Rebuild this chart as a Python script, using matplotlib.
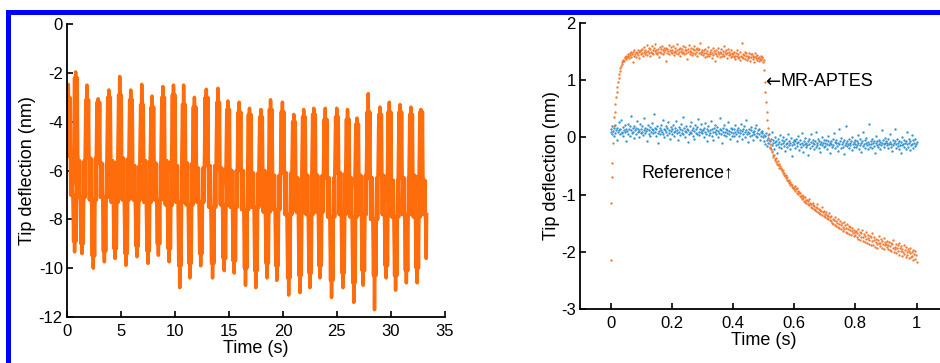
import numpy as np
import matplotlib.pyplot as plt
from matplotlib.patches import Rectangle

# ---- left panel: oscillating tip deflection, one entry per cycle ----
peak_t = [0.12, 0.8, 1.85, 2.88, 3.87, 4.88, 5.9, 6.92, 7.88, 8.88, 9.86, 10.8,
          11.8, 12.9, 13.98, 14.9, 15.95, 16.9, 17.95, 18.85, 19.95, 21.0, 21.92,
          22.85, 23.92, 24.98, 25.98, 26.85, 27.9, 28.98, 29.85, 30.85, 31.85, 32.78]
peak_v = [-2.47, -1.96, -2.5, -3.06, -2.7, -2.15, -2.7, -2.47, -2.95, -2.56, -2.5, -2.5,
          -3.0, -2.67, -2.63, -3.15, -3.2, -3.45, -3.5, -3.1, -3.2, -3.7, -3.5,
          -3.45, -3.45, -3.45, -3.5, -3.85, -2.85, -3.4, -3.2, -3.3, -3.4, -3.5]
peak2_v = [-3.0, -2.2, -3.1, -3.2, -3.0, -2.9, -3.1, -3.3, -3.4, -3.0, -2.9, -3.3,
           -3.4, -3.0, -3.2, -3.5, -3.6, -3.7, -3.8, -3.5, -3.6, -4.0, -3.8,
           -3.7, -3.9, -3.8, -3.9, -4.1, -3.6, -3.7, -3.6, -3.6, -3.7, -3.6]
trough_v = [-9.33, -9.4, -10.0, -9.74, -9.6, -9.88, -9.53, -9.8, -9.47, -9.74, -10.8, -10.4,
            -9.9, -10.4, -10.1, -10.2, -10.7, -10.8, -10.4, -10.5, -11.1, -11.0, -10.8,
            -10.4, -11.2, -10.8, -11.4, -10.7, -11.7, -10.4, -10.9, -10.6, -10.6, -10.0]
trough2_v = [-8.9, -9.0, -9.5, -9.3, -9.2, -9.4, -9.1, -9.3, -9.0, -9.2, -9.9, -9.8,
             -9.4, -9.8, -9.6, -9.7, -10.0, -10.1, -9.8, -9.9, -10.4, -10.3, -10.2,
             -9.9, -10.5, -10.2, -10.6, -10.1, -10.3, -9.9, -10.3, -10.1, -10.0, -9.6]
band_hi = [-5.4, -5.6, -5.5, -5.7, -5.6, -5.5, -5.8, -5.6, -5.7, -5.6, -5.8, -5.7,
           -5.9, -5.8, -5.9, -6.0, -6.0, -6.1, -6.0, -6.2, -6.1, -6.3, -6.2,
           -6.2, -6.3, -6.1, -6.3, -6.2, -6.3, -6.2, -6.4, -6.3, -6.2, -6.4]
band_lo = [-7.0, -7.1, -7.2, -7.1, -7.3, -7.2, -7.2, -7.3, -7.2, -7.4, -7.3, -7.4,
           -7.3, -7.5, -7.4, -7.5, -7.6, -7.5, -7.7, -7.6, -7.8, -7.7, -7.8,
           -7.7, -7.9, -7.8, -7.9, -7.8, -8.0, -7.8, -7.9, -7.8, -7.9, -7.8]

# ---- right panel: step responses, sampled every 2 ms from 0 to 1 s (values in 1/100 nm) ----
step_t = np.arange(501) * 0.002
mr_aptes = [
    -214, -115, -69, -45, -10, 20, 35, 45, 58, 70, 80, 88, 96, 103, 110, 116, 121, 125, 129, 131, 134, 136, 133, 139, 141,
    137, 143, 140, 146, 142, 139, 148, 144, 150, 141, 146, 131, 149, 143, 152, 145, 140, 150, 147, 153, 144, 149, 138, 151, 146,
    152, 147, 155, 143, 150, 158, 146, 153, 149, 161, 144, 151, 156, 148, 142, 154, 150, 159, 147, 152, 145, 157, 151, 164, 148,
    153, 146, 155, 150, 141, 158, 149, 154, 147, 160, 152, 145, 156, 150, 153, 134, 157, 148, 155, 151, 162, 146, 152, 158, 149,
    153, 147, 159, 150, 144, 156, 151, 148, 163, 152, 146, 155, 149, 157, 143, 151, 154, 148, 160, 150, 145, 153, 158, 147, 152,
    137, 155, 149, 161, 146, 151, 156, 150, 144, 154, 148, 159, 152, 146, 155, 150, 157, 143, 152, 148, 154, 165, 149, 145, 153,
    149, 144, 152, 147, 141, 155, 148, 143, 151, 146, 158, 142, 150, 145, 153, 139, 148, 156, 144, 151, 147, 133, 153, 146, 142,
    150, 157, 145, 149, 140, 154, 147, 143, 151, 146, 159, 142, 149, 145, 152, 138, 147, 155, 144, 150, 146, 141, 153, 148, 143,
    146, 140, 150, 143, 137, 148, 142, 153, 139, 145, 141, 136, 149, 143, 165, 140, 146, 138, 144, 150, 137, 142, 147, 135, 143,
    139, 148, 141, 134, 145, 140, 146, 137, 143, 131, 141, 147, 138, 142, 136, 144, 139, 133, 141, 137, 143, 135, 140, 138, 132,
    136, 118, 97, 80, 62, 45, 30, 16, 4, -5, -12, -17, -21, -26, -24, -31, -34, -30, -37, -40, -36, -43, -46, -41, -49,
    -47, -53, -50, -56, -54, -59, -62, -57, -65, -63, -68, -71, -66, -74, -70, -77, -75, -80, -78, -83, -81, -86, -84, -89, -87,
    -90, -85, -94, -91, -88, -97, -93, -99, -95, -102, -98, -105, -100, -108, -103, -106, -111, -104, -113, -109, -115, -110, -117, -112, -108,
    -119, -114, -121, -116, -123, -118, -114, -125, -120, -127, -122, -129, -124, -117, -130, -126, -132, -127, -134, -129, -122, -135, -131, -137, -128,
    -134, -139, -130, -141, -136, -143, -138, -132, -145, -140, -147, -137, -149, -143, -151, -145, -139, -153, -147, -155, -149, -142, -157, -151, -159,
    -146, -154, -161, -150, -163, -156, -148, -160, -153, -165, -158, -152, -167, -160, -155, -169, -162, -157, -171, -164, -159, -168, -173, -162, -166,
    -170, -163, -174, -167, -160, -177, -171, -165, -179, -168, -174, -162, -181, -175, -169, -183, -172, -178, -166, -184, -176, -171, -186, -179, -173,
    -188, -175, -182, -168, -189, -180, -174, -191, -183, -177, -186, -193, -179, -184, -172, -190, -185, -178, -194, -181, -187, -176, -195, -183, -189,
    -186, -192, -181, -195, -188, -183, -197, -190, -185, -199, -186, -193, -180, -201, -191, -196, -187, -203, -194, -189, -198, -184, -205, -193, -199,
    -190, -207, -195, -201, -188, -204, -197, -209, -192, -200, -206, -196, -211, -199, -203, -193, -210, -201, -207, -197, -214, -204, -199, -212, -206,
    -218]
reference = [
    10, 14, 6, 19, 11, 3, 16, 22, 8, 13, -4, 17, 9, 26, 12, 5, 15, 31, 10, 7, 18, 2, 13, 21, 9,
    15, -7, 11, 24, 6, 14, 19, 3, 12, 37, 8, 16, 10, -1, 20, 13, 5, 17, 28, 9, 14, 0, 11, 23, 7,
    15, 9, 19, 4, 12, 33, 8, 16, 11, -6, 14, 21, 6, 13, 18, 2, 10, 25, 15, 7, 12, 40, 9, 17, 3,
    14, 20, 8, -9, 11, 16, 5, 22, 13, 9, 30, 6, 15, 1, 12, 19, 10, 4, 17, 27, 8, 13, -3, 11, 18,
    6, 14, 21, 9, 2, 16, 11, 29, 7, 13, -5, 18, 10, 4, 15, 24, 8, 12, 35, 6, 17, 1, 11, 20, 9,
    14, -8, 12, 5, 19, 10, 26, 7, 13, 3, 16, 11, -2, 21, 8, 14, 6, 18, 32, 10, 4, 15, 9, 23, 12,
    7, 13, 1, 17, 10, 25, 6, 14, -7, 11, 19, 4, 12, 8, 28, 15, 3, 10, -4, 16, 9, 21, 5, 13, 18,
    0, 11, 7, 33, 14, 6, 12, -10, 9, 17, 4, 22, 10, 15, 2, 13, 8, 26, 6, 11, -3, 16, 9, 3, 14,
    8, 2, 15, 10, 21, 5, 12, -6, 9, 17, 3, 13, 7, 24, 11, -2, 14, 6, 19, 9, 1, 12, 30, 5, 10,
    -8, 15, 7, 3, 13, 18, 4, 9, -4, 11, 6, 16, 2, 22, 8, 0, 12, 5, 14, -5, 9, 3, 11, 7, 1,
    4, -6, 2, -12, 7, -4, -15, -1, -9, 5, -18, -7, -3, -13, 9, -10, -5, -21, -8, 1, -14, -6, -28, -11, -2,
    -16, -8, 4, -12, -19, -5, -10, 0, -15, -7, -24, -11, -3, -17, -9, 6, -13, -6, -20, -10, -1, -14, -32, -8, -4,
    -12, -7, -18, -2, -10, -15, 3, -8, -22, -12, -5, -16, 8, -9, -13, -26, -6, -11, -1, -17, -9, -14, -30, -7, -3,
    -12, -19, -8, 5, -15, -10, -4, -21, -11, -7, -16, 10, -9, -13, -2, -18, -6, -25, -11, -8, -14, 0, -10, -17, -5,
    -9, -15, -4, -12, -20, -7, 2, -14, -10, -27, -6, -11, -17, -3, -13, 7, -8, -19, -10, -5, -15, -23, -9, 14, -12,
    -6, -18, -1, -11, -16, -8, -29, -4, -13, -9, 20, -15, -7, -11, -3, -18, -10, -14, -6, -22, 1, -12, -8, -16, -4,
    -11, -17, -6, -13, 4, -9, -20, -14, -3, -10, -25, -7, -15, 9, -12, -5, -18, -9, -1, -14, -21, -8, -11, 24, -16,
    -6, -12, -2, -19, -10, -7, -15, -28, -9, 3, -13, -6, -17, -11, -4, -20, -8, -14, 12, -10, -5, -16, -12, -1, -9,
    -6, -14, -10, -19, -3, -12, -8, 6, -16, -11, -24, -5, -13, -9, 15, -7, -18, -12, -2, -15, -10, -21, -6, -13, -27,
    -8, 1, -14, -11, -4, -17, -9, -20, -6, 10, -12, -16, -3, -10, -22, -7, -13, 4, -11, -18, -5, -9, -15, -2, -12,
    -8]

ORANGE = '#ff6c0c'
ORANGE_DOT = '#f27a32'
BLUE_DOT = '#3593cf'

plt.rcParams['font.family'] = ['Liberation Sans', 'DejaVu Sans']
plt.rcParams['axes.unicode_minus'] = False


def matlab_axes(ax):
    ax.spines['top'].set_visible(False)
    ax.spines['right'].set_visible(False)
    ax.spines['left'].set_linewidth(1.3)
    ax.spines['bottom'].set_linewidth(1.3)
    ax.tick_params(direction='in', length=4, width=1.2, labelsize=12)
    ax.tick_params(axis='x', pad=5)
    ax.tick_params(axis='y', pad=3)


# build the left trace: each cycle is a wide burst up to the peaks, fast wiggles through the
# middle band, then a wide burst down to the troughs
seg = [(0.0, band_hi[0])]
for k, pt in enumerate(peak_t):
    hi, lo = band_hi[k], band_lo[k]
    tt = pt + 0.55
    seg += [(pt - 0.18, hi), (pt - 0.1, peak2_v[k]), (pt - 0.05, hi), (pt, peak_v[k]),
            (pt + 0.08, hi), (pt + 0.14, peak2_v[k]), (pt + 0.22, lo),
            (pt + 0.25, hi), (pt + 0.28, lo), (pt + 0.31, hi), (pt + 0.34, lo),
            (pt + 0.37, hi), (pt + 0.4, lo),
            (tt - 0.13, lo), (tt - 0.06, trough2_v[k]), (tt - 0.02, lo), (tt + 0.03, trough_v[k]),
            (tt + 0.1, lo), (tt + 0.15, trough2_v[k]), (tt + 0.23, hi),
            (tt + 0.26, lo), (tt + 0.29, hi), (tt + 0.32, lo)]
seg = [p for p in seg if p[0] <= 33.35]
lt = [p[0] for p in seg]
lv = [p[1] for p in seg]

fig = plt.figure(figsize=(9.4, 3.63), dpi=100)

ax1 = fig.add_axes([0.0713, 0.1267, 0.402, 0.807])
ax1.plot(lt, lv, color=ORANGE, lw=2.5)
ax1.set_xlim(0, 35)
ax1.set_ylim(-12, 0)
ax1.set_xticks(range(0, 36, 5))
ax1.set_yticks(range(-12, 1, 2))
ax1.set_xlabel('Time (s)', fontsize=13, labelpad=1)
ax1.set_ylabel('Tip deflection (nm)', fontsize=13, labelpad=2)
matlab_axes(ax1)

ax2 = fig.add_axes([0.617, 0.1488, 0.3906, 0.788])
ax2.plot(step_t, np.array(reference) / 100, '.', color=BLUE_DOT, ms=3.4, mew=0)
ax2.plot(step_t, np.array(mr_aptes) / 100, '.', color=ORANGE_DOT, ms=3.4, mew=0)
ax2.set_xlim(-0.1, 1.1)
ax2.set_ylim(-3, 2)
ax2.set_xticks([0, 0.2, 0.4, 0.6, 0.8, 1])
ax2.set_xticklabels(['0', '0.2', '0.4', '0.6', '0.8', '1'])
ax2.set_yticks(range(-3, 3))
ax2.set_xlabel('Time (s)', fontsize=13, labelpad=1)
ax2.set_ylabel('Tip deflection (nm)', fontsize=13, labelpad=1)
ax2.text(0.505, 0.97, '\u2190', fontsize=13, va='center', ha='left', family='DejaVu Sans')
ax2.annotate('MR-APTES', xy=(0.505, 0.97), xytext=(11, 0), textcoords='offset points',
             fontsize=13, va='center', ha='left')
ax2.text(0.1, -0.62, 'Reference\u2191', fontsize=13, va='center', ha='left')
matlab_axes(ax2)

# blue frame along the top and left edges
fig.add_artist(Rectangle((6 / 940, (363 - 15) / 363), 1, 5 / 363,
                         transform=fig.transFigure, color='#0000ff', lw=0))
fig.add_artist(Rectangle((6 / 940, 0), 5 / 940, (363 - 10) / 363,
                         transform=fig.transFigure, color='#0000ff', lw=0))

fig.savefig('out.png', dpi=100)
